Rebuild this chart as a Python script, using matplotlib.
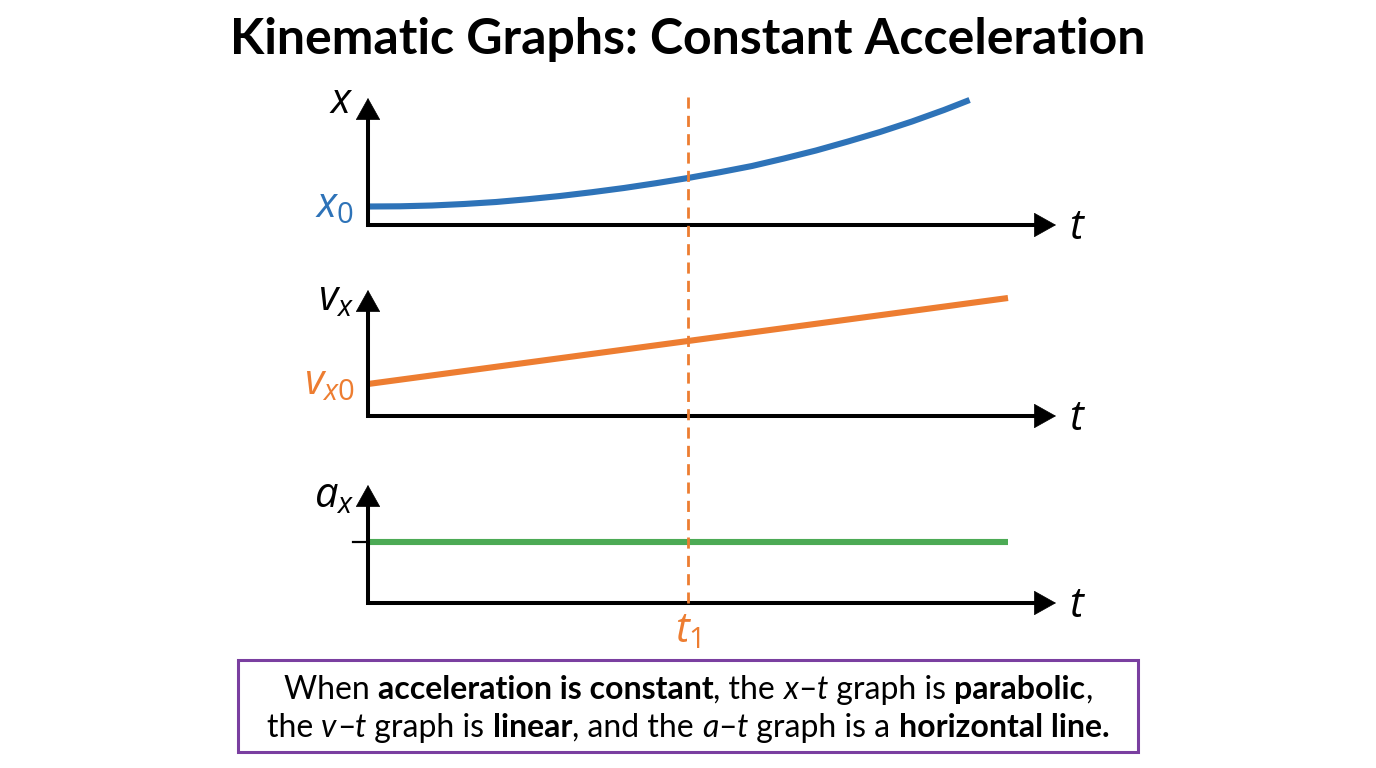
import matplotlib
matplotlib.use('Agg')
import matplotlib.pyplot as plt
from matplotlib.patches import Rectangle
from matplotlib.transforms import blended_transform_factory

TEXT_FONT = 'Lato'
MATH_FONT = 'Open Sans'
plt.rcParams['font.family'] = [TEXT_FONT, 'DejaVu Sans']
plt.rcParams['mathtext.fontset'] = 'custom'
plt.rcParams['mathtext.rm'] = MATH_FONT
plt.rcParams['mathtext.it'] = MATH_FONT + ':italic'
plt.rcParams['mathtext.bf'] = MATH_FONT + ':bold'

# ---- data ----
t_pos = [0, 0.5, 1, 1.5, 2, 2.5, 3, 3.5, 4, 4.5, 5, 5.5, 6, 6.5, 7, 7.5, 8,
         8.5, 9, 9.4]
x_pos = [1.85, 1.87, 1.95, 2.1, 2.3, 2.58, 2.9, 3.28, 3.7, 4.18, 4.7, 5.28,
         5.9, 6.65, 7.45, 8.35, 9.3, 10.35, 11.5, 12.5]
t_vel = [0, 10]
v_vel = [3.2, 11.8]
t_acc = [0, 10]
a_acc = [6.1, 6.1]
t1 = 5.0

title = "Kinematic Graphs: Constant Acceleration"
y_labels = [r'$x$', r'$v_x$', r'$a_x$']
start_labels = [r'$x_0$', r'$v_{x0}$', None]

BLUE = '#2E73B8'
ORANGE = '#ED7D31'
GREEN = '#4CAA55'
PURPLE = '#7A3FA0'

W, H = 1376, 768
fig = plt.figure(figsize=(W / 100, H / 100), dpi=100)
fig.patch.set_facecolor('white')

X0_PX = 368      # pixel column of all origins
PX_T = 64.0      # pixels per time unit
PX_Y = 10.0      # pixels per value unit
T_END = 10.75    # arrow tip on t axis


def make_panel(origin_px, top_px, bottom_px):
    ax = fig.add_axes([0, 1 - bottom_px / H, 1, (bottom_px - top_px) / H])
    ax.set_xlim(-X0_PX / PX_T, (W - X0_PX) / PX_T)
    ax.set_ylim(-(bottom_px - origin_px) / PX_Y, (origin_px - top_px) / PX_Y)
    ax.axis('off')
    ax.patch.set_alpha(0)
    return ax


def draw_axes(ax, y_end):
    ax.plot([0, 0, T_END - 0.2], [y_end - 1.0, 0, 0], color='black', lw=2.9,
            solid_joinstyle='miter', solid_capstyle='butt', zorder=3)
    head = dict(arrowstyle='-|>,head_length=0.75,head_width=0.42', color='black',
                lw=0.5, shrinkA=0, shrinkB=0, mutation_scale=20)
    ax.annotate('', xy=(0, y_end), xytext=(0, y_end - 1.2), arrowprops=head, zorder=4)
    ax.annotate('', xy=(T_END, 0), xytext=(T_END - 0.3, 0), arrowprops=head, zorder=4)
    ax.text(T_END + 0.2, -0.2, r'$t$', fontsize=30, ha='left', va='center')


def tx(px):
    return (px - X0_PX) / PX_T


panels = [
    make_panel(225, 80, 255),
    make_panel(416, 275, 446),
    make_panel(603, 465, 650),
]
origins = [225, 416, 603]
y_ends = [12.7, 12.6, 11.8]

ax1, ax2, ax3 = panels
for ax, ye in zip(panels, y_ends):
    draw_axes(ax, ye)

# curves
ax1.plot(t_pos, x_pos, color=BLUE, lw=4.4, solid_capstyle='butt',
         solid_joinstyle='round', zorder=2)
ax2.plot(t_vel, v_vel, color=ORANGE, lw=4.4, solid_capstyle='butt', zorder=2)
ax3.plot(t_acc, a_acc, color=GREEN, lw=4.4, solid_capstyle='butt', zorder=2)

# axis names
label_px = [(341, 101), (336, 300), (334, 497)]
for ax, org, lab, (px, py) in zip(panels, origins, y_labels, label_px):
    ax.text(tx(px), (org - py) / PX_Y, lab, fontsize=30, ha='center', va='center')

# starting values
ax1.text(tx(354), x_pos[0], start_labels[0], fontsize=30, color=BLUE,
         ha='right', va='center')
ax2.text(tx(354), v_vel[0], start_labels[1], fontsize=30, color=ORANGE,
         ha='right', va='center')
ax3.plot([tx(353), 0], [a_acc[0], a_acc[0]], color='black', lw=1.6, zorder=3)

# t1 marker
trans = blended_transform_factory(ax3.transData, fig.transFigure)
fig.add_artist(plt.Line2D([t1, t1], [1 - 97 / H, 1 - 603 / H], transform=trans,
                          color=ORANGE, lw=2.0, linestyle=(0, (4.0, 2.6)), zorder=1))
ax3.text(t1, (603 - 632) / PX_Y, r'$t_1$', fontsize=30, color=ORANGE,
         ha='center', va='center')

# title
fig.text(0.5, 1 - 40 / H, title, fontsize=36, fontweight='bold', ha='center',
         va='center')

# caption box
fig.add_artist(Rectangle((238 / W, 1 - 752 / H), 900 / W, 92 / H,
                         transform=fig.transFigure, facecolor='white',
                         edgecolor=PURPLE, lw=2.2))

caption = [
    [("When ", 'n'), ("acceleration is constant", 'b'), (", the ", 'n'),
     ("x", 'i'), ("\u2013", 'n'), ("t", 'i'), (" graph is ", 'n'),
     ("parabolic", 'b'), (",", 'n')],
    [("the ", 'n'), ("v", 'i'), ("\u2013", 'n'), ("t", 'i'), (" graph is ", 'n'),
     ("linear", 'b'), (", and the ", 'n'), ("a", 'i'), ("\u2013", 'n'), ("t", 'i'),
     (" graph is a ", 'n'), ("horizontal line.", 'b')],
]
styles = {'n': dict(fontweight='normal', fontstyle='normal'),
          'b': dict(fontweight='bold', fontstyle='normal'),
          'i': dict(fontweight='normal', fontstyle='italic')}
CAP_SIZE = 23
baselines = [699, 737]

renderer = fig.canvas.get_renderer()


def seg_width(s, st):
    a = fig.text(0, 0, '|' + s + '|', fontsize=CAP_SIZE, **styles[st])
    b = fig.text(0, 0, '||', fontsize=CAP_SIZE, **styles[st])
    w = a.get_window_extent(renderer).width - b.get_window_extent(renderer).width
    a.remove()
    b.remove()
    return w


for line, base in zip(caption, baselines):
    widths = [seg_width(s, st) for s, st in line]
    x = (W - sum(widths)) / 2
    for (s, st), w in zip(line, widths):
        fig.text(x / W, 1 - base / H, s, fontsize=CAP_SIZE, ha='left',
                 va='baseline', **styles[st])
        x += w

fig.savefig('out.png', dpi=100, facecolor='white')
